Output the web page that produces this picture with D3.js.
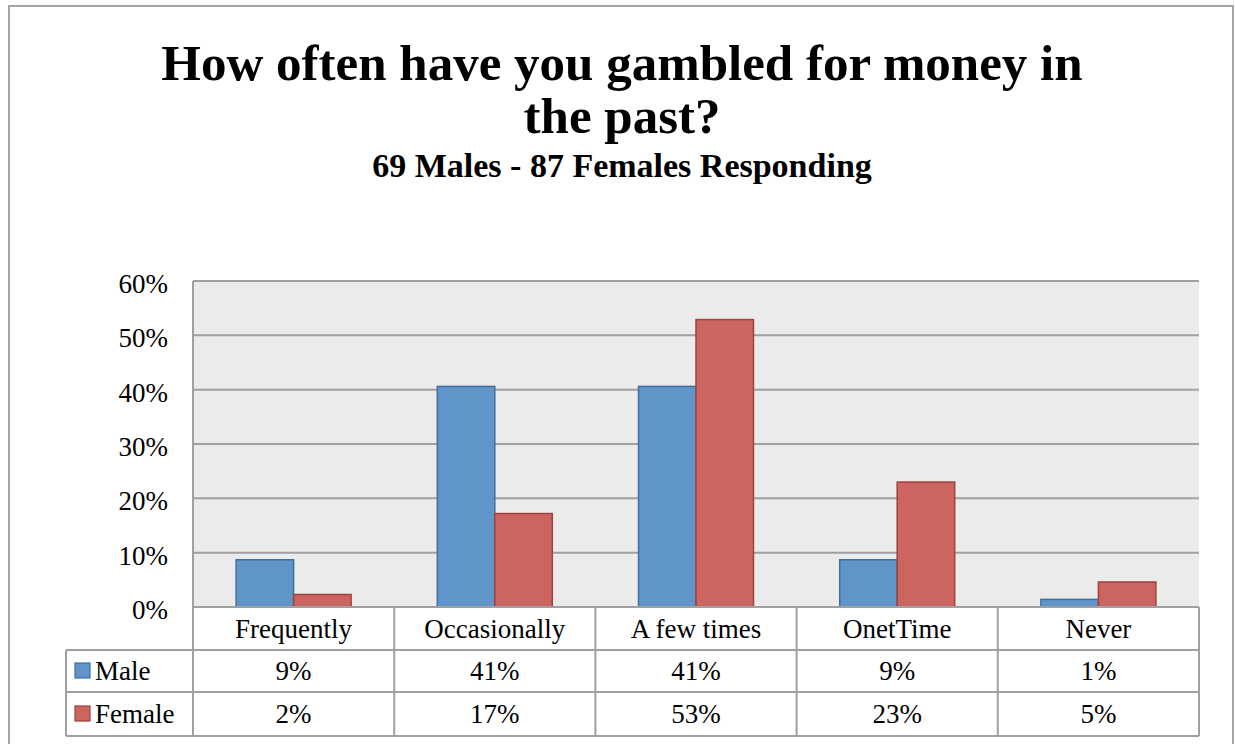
<!DOCTYPE html>
<html>
<head>
<meta charset="utf-8">
<script src="https://cdn.jsdelivr.net/npm/d3@7"></script>
<style>
  html, body { margin: 0; padding: 0; background: #fff; }
  svg { display: block; }
  text { font-family: "Liberation Serif", "Times New Roman", serif; fill: #000; }
</style>
</head>
<body>
<svg id="chart" width="1235" height="744"></svg>
<script>
// Survey answers: share of respondents in each frequency band
const categories = ["Frequently", "Occasionally", "A few times", "OnetTime", "Never"];
const seriesNames = ["Male", "Female"];
const maleShare   = [0.087, 0.406, 0.406, 0.087, 0.014];
const femaleShare = [0.023, 0.172, 0.529, 0.230, 0.046];
const yTicks = [0, 0.1, 0.2, 0.3, 0.4, 0.5, 0.6];
const titleLines = ["How often have you gambled for money in", "the past?"];
const subtitle = "69 Males - 87 Females Responding";

const series = [
  { name: seriesNames[0], values: maleShare,   fill: "#5f95c9", stroke: "#41709f" },
  { name: seriesNames[1], values: femaleShare, fill: "#cc6560", stroke: "#a1403c" }
];

const W = 1235, H = 744;
const plot = { left: 193, right: 1199, top: 281, bottom: 607 };
const table = { left: 66, rowH: [43, 42, 44] };
const gridColor = "#a0a0a0";
const fmt = d3.format(".0%");

const svg = d3.select("#chart");

// outer chart frame
svg.append("rect")
  .attr("x", 9).attr("y", 6).attr("width", 1224).attr("height", 760)
  .attr("fill", "#fff").attr("stroke", "#a6a6a6").attr("stroke-width", 2);

// titles
const cx = 622;
svg.append("text").attr("x", cx).attr("y", 80)
  .attr("text-anchor", "middle").attr("font-size", 51).attr("font-weight", "bold")
  .text(titleLines[0]);
svg.append("text").attr("x", cx).attr("y", 133)
  .attr("text-anchor", "middle").attr("font-size", 51).attr("font-weight", "bold")
  .text(titleLines[1]);
svg.append("text").attr("x", cx).attr("y", 177)
  .attr("text-anchor", "middle").attr("font-size", 34).attr("font-weight", "bold")
  .text(subtitle);

// scales
const x0 = d3.scaleBand().domain(categories).range([plot.left, plot.right]).paddingInner(0).paddingOuter(0);
const x1 = d3.scaleBand().domain(seriesNames).range([0, x0.bandwidth()]).paddingOuter(0.75).paddingInner(0);
const y = d3.scaleLinear().domain([0, 0.6]).range([plot.bottom, plot.top]);

// plot background
svg.append("rect")
  .attr("x", plot.left).attr("y", plot.top)
  .attr("width", plot.right - plot.left).attr("height", plot.bottom - plot.top)
  .attr("fill", "#ebebeb");

// horizontal gridlines
svg.append("g").selectAll("line").data(yTicks.filter(d => d > 0)).join("line")
  .attr("x1", plot.left).attr("x2", plot.right)
  .attr("y1", d => y(d)).attr("y2", d => y(d))
  .attr("stroke", gridColor).attr("stroke-width", 2);

// y axis labels
const yAxis = d3.axisLeft(y).tickValues(yTicks).tickFormat(fmt).tickSize(0).tickPadding(25);
const yg = svg.append("g").attr("transform", `translate(${plot.left},0)`).call(yAxis);
yg.select(".domain").remove();
yg.selectAll("text")
  .attr("font-family", "Liberation Serif, serif")
  .attr("font-size", 27).attr("fill", "#000").attr("dy", "0.42em");

// bars
const groups = svg.append("g").selectAll("g").data(categories).join("g")
  .attr("transform", d => `translate(${x0(d)},0)`);
groups.selectAll("rect")
  .data((c, i) => series.map(s => ({ s, v: s.values[i] })))
  .join("rect")
  .attr("x", d => x1(d.s.name))
  .attr("width", x1.bandwidth())
  .attr("y", d => y(d.v))
  .attr("height", d => y(0) - y(d.v))
  .attr("fill", d => d.s.fill)
  .attr("stroke", d => d.s.stroke)
  .attr("stroke-width", 1.5);

// data table under the plot
const rowTop = [plot.bottom, plot.bottom + table.rowH[0], plot.bottom + table.rowH[0] + table.rowH[1]];
const tableBottom = rowTop[2] + table.rowH[2];
const tg = svg.append("g");

tg.append("rect")
  .attr("x", plot.left).attr("y", plot.bottom)
  .attr("width", plot.right - plot.left).attr("height", tableBottom - plot.bottom)
  .attr("fill", "#fff");
tg.append("rect")
  .attr("x", table.left).attr("y", rowTop[1])
  .attr("width", plot.left - table.left).attr("height", tableBottom - rowTop[1])
  .attr("fill", "#fff");

// horizontal rules
tg.append("line").attr("x1", plot.left).attr("x2", plot.right)
  .attr("y1", plot.bottom).attr("y2", plot.bottom);
[rowTop[1], rowTop[2], tableBottom].forEach(yy => {
  tg.append("line").attr("x1", table.left).attr("x2", plot.right).attr("y1", yy).attr("y2", yy);
});
// vertical rules between categories
const edges = categories.map(c => x0(c)).concat([plot.right]);
tg.selectAll("line.v").data(edges).join("line").attr("class", "v")
  .attr("x1", d => d).attr("x2", d => d)
  .attr("y1", (d, i) => i === 0 ? plot.top : plot.bottom)
  .attr("y2", tableBottom);
tg.append("line").attr("x1", table.left).attr("x2", table.left)
  .attr("y1", rowTop[1]).attr("y2", tableBottom);
tg.selectAll("line").attr("stroke", gridColor).attr("stroke-width", 2);

// category header
tg.selectAll("text.cat").data(categories).join("text").attr("class", "cat")
  .attr("x", d => x0(d) + x0.bandwidth() / 2)
  .attr("y", rowTop[0] + table.rowH[0] / 2 + 9)
  .attr("text-anchor", "middle").attr("font-size", 27)
  .text(d => d);

// series rows with legend keys
series.forEach((s, si) => {
  const mid = rowTop[si + 1] + table.rowH[si + 1] / 2;
  tg.append("rect")
    .attr("x", 75).attr("y", mid - 8).attr("width", 15).attr("height", 15)
    .attr("fill", s.fill).attr("stroke", s.stroke).attr("stroke-width", 1.2);
  tg.append("text").attr("x", 95).attr("y", mid + 9)
    .attr("font-size", 27).text(s.name);
  tg.selectAll(null).data(categories).join("text")
    .attr("x", d => x0(d) + x0.bandwidth() / 2)
    .attr("y", mid + 9)
    .attr("text-anchor", "middle").attr("font-size", 27)
    .text((d, i) => fmt(s.values[i]));
});
</script>
</body>
</html>
